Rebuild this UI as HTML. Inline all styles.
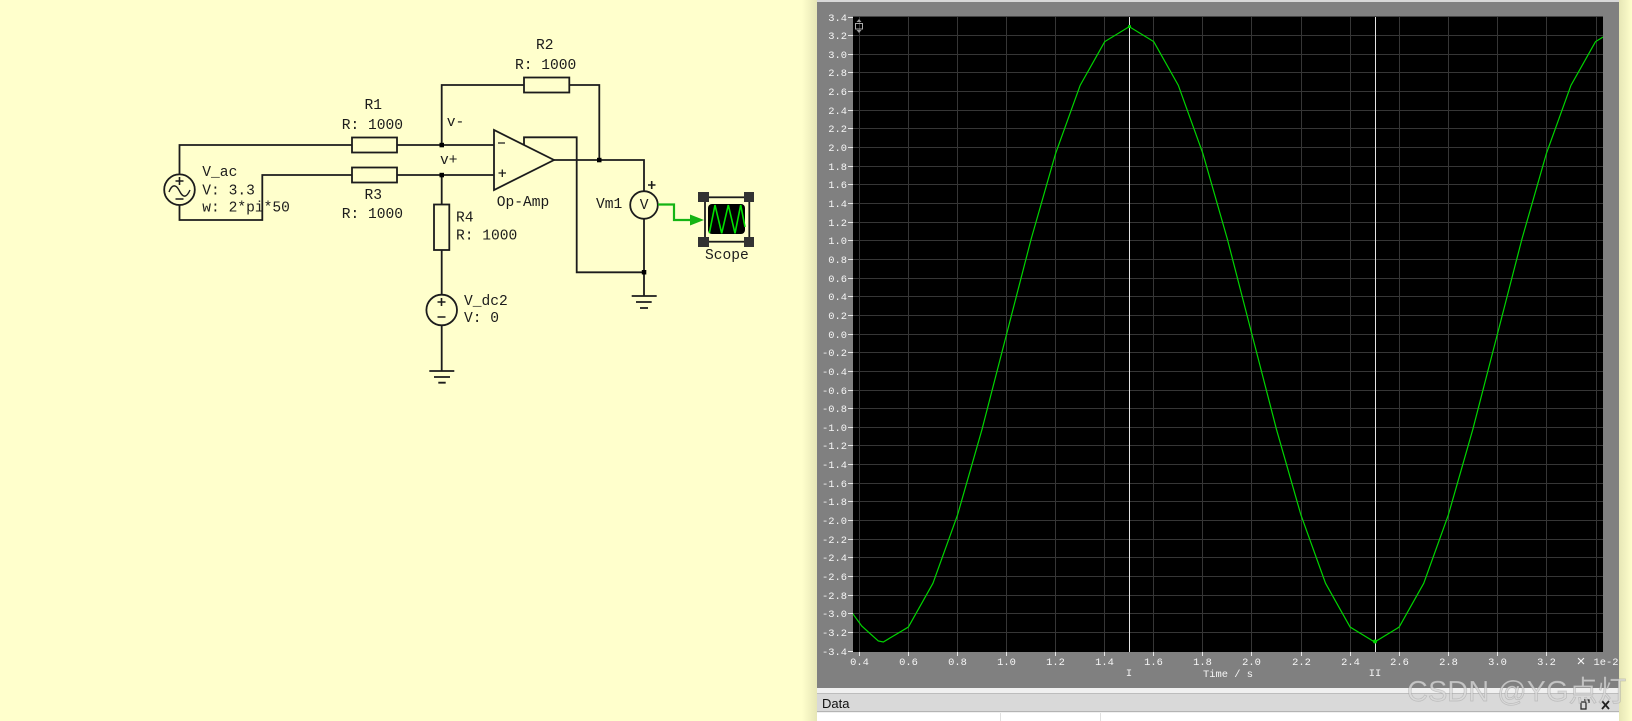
<!DOCTYPE html>
<html><head><meta charset="utf-8"><style>
html,body{margin:0;padding:0;width:1632px;height:721px;overflow:hidden;background:#ffffcc}
svg{display:block;position:absolute;left:0;top:0}
.s text{font-family:"Liberation Mono",monospace;font-size:14.6px;fill:#1c1c1c}
.l text{font-family:"Liberation Mono",monospace;font-size:10.4px;fill:#f6f6f6}
</style></head><body>
<svg width="1632" height="721" viewBox="0 0 1632 721">
<defs>
<linearGradient id="gl" x1="0" x2="1" y1="0" y2="0"><stop offset="0" stop-color="#ffffcc"/><stop offset="1" stop-color="#e6e6b6"/></linearGradient>
<linearGradient id="gr" x1="0" x2="1" y1="0" y2="0"><stop offset="0" stop-color="#e6e6b6"/><stop offset="1" stop-color="#ffffcc"/></linearGradient>
<clipPath id="pl"><rect x="853" y="17" width="750" height="635"/></clipPath>
</defs>
<rect width="1632" height="721" fill="#ffffcc"/>
<rect x="802" y="0" width="15" height="721" fill="url(#gl)"/>
<rect x="1619" y="0" width="13" height="721" fill="url(#gr)"/>

<!-- scope window -->
<rect x="817" y="0" width="802" height="688" fill="#808080"/>
<rect x="817" y="0" width="802" height="2" fill="#d8d8d8"/>
<rect x="853" y="17" width="750" height="635" fill="#000"/>
<rect x="853" y="16" width="750" height="1" fill="#444"/>
<path shape-rendering="crispEdges" stroke="#363636" stroke-width="1" fill="none" d="M853 35.5H1603M853 54.5H1603M853 72.5H1603M853 91.5H1603M853 110.5H1603M853 128.5H1603M853 147.5H1603M853 166.5H1603M853 184.5H1603M853 203.5H1603M853 222.5H1603M853 240.5H1603M853 259.5H1603M853 278.5H1603M853 296.5H1603M853 315.5H1603M853 334.5H1603M853 352.5H1603M853 371.5H1603M853 390.5H1603M853 408.5H1603M853 427.5H1603M853 445.5H1603M853 464.5H1603M853 483.5H1603M853 501.5H1603M853 520.5H1603M853 539.5H1603M853 557.5H1603M853 576.5H1603M853 595.5H1603M853 613.5H1603M853 632.5H1603
M859.5 17V652M908.5 17V652M957.5 17V652M1006.5 17V652M1055.5 17V652M1104.5 17V652M1153.5 17V652M1202.5 17V652M1251.5 17V652M1301.5 17V652M1350.5 17V652M1399.5 17V652M1448.5 17V652M1497.5 17V652M1546.5 17V652M1596.5 17V652"/>
<path shape-rendering="crispEdges" stroke="#e8e8e8" stroke-width="1" fill="none" d="M848 17.5H853M848 35.5H853M848 54.5H853M848 72.5H853M848 91.5H853M848 110.5H853M848 128.5H853M848 147.5H853M848 166.5H853M848 184.5H853M848 203.5H853M848 222.5H853M848 240.5H853M848 259.5H853M848 278.5H853M848 296.5H853M848 315.5H853M848 334.5H853M848 352.5H853M848 371.5H853M848 390.5H853M848 408.5H853M848 427.5H853M848 445.5H853M848 464.5H853M848 483.5H853M848 501.5H853M848 520.5H853M848 539.5H853M848 557.5H853M848 576.5H853M848 595.5H853M848 613.5H853M848 632.5H853M848 651.5H853
M859.5 652V656M908.5 652V656M957.5 652V656M1006.5 652V656M1055.5 652V656M1104.5 652V656M1153.5 652V656M1202.5 652V656M1251.5 652V656M1301.5 652V656M1350.5 652V656M1399.5 652V656M1448.5 652V656M1497.5 652V656M1546.5 652V656"/>
<path shape-rendering="crispEdges" stroke="#e4e4e4" stroke-width="1" fill="none" d="M1129.5 17V652M1375.5 17V652"/>
<polyline clip-path="url(#pl)" fill="none" stroke="#00d400" stroke-width="1.2" points="845,603 861.7,626 878.3,641 883.3,642 908.38,627.05 932.92,583.35 957.46,515.25 982,429.45 1006.54,334.35 1031.08,239.25 1055.62,153.45 1080.16,85.35 1104.7,41.65 1129.24,26.65 1153.78,41.65 1178.32,85.35 1202.86,153.45 1227.4,239.25 1251.94,334.35 1276.48,429.45 1301.02,515.25 1325.56,583.35 1350.1,627.05 1374.64,642.05 1399.18,627.05 1423.72,583.35 1448.26,515.25 1472.8,429.45 1497.34,334.35 1521.88,239.25 1546.42,153.45 1570.96,85.35 1595.5,41.65 1620.04,26.65"/>
<circle cx="1375" cy="641.5" r="2" fill="#00d400"/>
<circle cx="1129.5" cy="26.5" r="1.6" fill="#00d400"/>
<g fill="none" stroke="#aaa"><rect x="855.5" y="23.5" width="7" height="5.5"/></g>
<path d="M859 19l2.5 3h-5zM859 33l2.5-3h-5z" fill="#999"/>

<g class="l" text-anchor="end">
<text x="847" y="21">3.4</text><text x="847" y="39">3.2</text><text x="847" y="58">3.0</text><text x="847" y="76">2.8</text><text x="847" y="95">2.6</text><text x="847" y="114">2.4</text><text x="847" y="132">2.2</text><text x="847" y="151">2.0</text><text x="847" y="170">1.8</text><text x="847" y="188">1.6</text><text x="847" y="207">1.4</text><text x="847" y="226">1.2</text><text x="847" y="244">1.0</text><text x="847" y="263">0.8</text><text x="847" y="282">0.6</text><text x="847" y="300">0.4</text><text x="847" y="319">0.2</text><text x="847" y="338">0.0</text><text x="847" y="356">-0.2</text><text x="847" y="375">-0.4</text><text x="847" y="394">-0.6</text><text x="847" y="412">-0.8</text><text x="847" y="431">-1.0</text><text x="847" y="449">-1.2</text><text x="847" y="468">-1.4</text><text x="847" y="487">-1.6</text><text x="847" y="505">-1.8</text><text x="847" y="524">-2.0</text><text x="847" y="543">-2.2</text><text x="847" y="561">-2.4</text><text x="847" y="580">-2.6</text><text x="847" y="599">-2.8</text><text x="847" y="617">-3.0</text><text x="847" y="636">-3.2</text><text x="847" y="655">-3.4</text>
</g>
<g class="l" text-anchor="middle">
<text x="859.5" y="665">0.4</text><text x="908.5" y="665">0.6</text><text x="957.5" y="665">0.8</text><text x="1006.5" y="665">1.0</text><text x="1055.5" y="665">1.2</text><text x="1104.5" y="665">1.4</text><text x="1153.5" y="665">1.6</text><text x="1202.5" y="665">1.8</text><text x="1251.5" y="665">2.0</text><text x="1301.5" y="665">2.2</text><text x="1350.5" y="665">2.4</text><text x="1399.5" y="665">2.6</text><text x="1448.5" y="665">2.8</text><text x="1497.5" y="665">3.0</text><text x="1546.5" y="665">3.2</text>
<text x="1129" y="676">I</text><text x="1375" y="676">II</text>
<text x="1228" y="677">Time / s</text>
<text x="1581" y="666" style="font-size:15px">×</text>
</g>
<g class="l"><text x="1593.5" y="665">1e-2</text></g>

<!-- data panel -->
<rect x="817" y="688" width="802" height="33" fill="#f0f0f0"/>
<rect x="817" y="693" width="802" height="19" fill="#d9d9d9"/>
<rect x="817" y="693" width="802" height="1" fill="#bdbdbd"/>
<rect x="817" y="711" width="802" height="1" fill="#b4b4b4"/>
<rect x="817" y="713" width="802" height="8" fill="#fff"/>
<rect x="1000" y="713" width="1" height="8" fill="#e0e0e0"/>
<rect x="1100" y="713" width="1" height="8" fill="#e0e0e0"/>
<text x="822" y="708" font-family="'Liberation Sans',sans-serif" font-size="13" fill="#111">Data</text>
<path d="M1581 702h5v3M1581 702v7h5v-4M1584 700h5v3" fill="none" stroke="#222" stroke-width="1.2"/>
<path d="M1602 701l7 8M1609 701l-7 8" stroke="#222" stroke-width="1.8"/>

<text x="1407" y="701" font-family="'Liberation Sans','Noto Sans CJK SC',sans-serif" font-size="29" fill="#d8d8d8" fill-opacity=".78" stroke="#777" stroke-opacity=".3" stroke-width=".7">CSDN @YG点灯</text>

<!-- schematic -->
<g fill="none" stroke="#1c1c1c" stroke-width="1.8">
<path d="M179.5 174.5V145H352M397 145H494M441.7 145V85H524M569.3 85H599.3V160"/>
<path d="M179.5 205V220H262.3V175H352M397 175H494M441.7 175V204.5M441.7 250V295M441.7 325V371"/>
<path d="M554 160H644V191M644 219V296M524 145V137.3H576.7V272.3H644"/>
<circle cx="179.5" cy="189.7" r="15.3"/>
<path d="M169 192c3-8 7-8 10.500 -1s7 7 10.500 -1" stroke-width="1.4"/>
<path d="M175.500 181H183.500M179.500 177V185M175.500 199H183.500" stroke-width="1.6"/>
<rect x="352" y="137.500" width="45" height="15" fill="#ffffcc"/>
<rect x="352" y="167.500" width="45" height="15" fill="#ffffcc"/>
<rect x="524" y="77.500" width="45.300" height="15"/>
<rect x="434" y="204.500" width="15.300" height="45.500"/>
<path d="M494 130V190L554 160Z"/>
<path d="M498 143H505M498.500 173H506M502.300 169.500V177" stroke-width="1.300"/>
<circle cx="441.700" cy="310" r="15.300"/>
<path d="M437.500 302H445.500M441.500 298V306M437.500 317H445.500" stroke-width="1.600"/>
<path d="M429.300 371H454.300M434 377H450M438.300 382.700H445.700"/>
<circle cx="644" cy="205" r="13.800"/>
<path d="M648 185H655.500M651.700 181V189" stroke-width="1.600"/>
<path d="M631.700 296H656.700M636 302H651.700M640 308H648"/>
</g>
<g fill="#000">
<rect x="439.500" y="142.800" width="4.500" height="4.500"/><rect x="439.500" y="172.800" width="4.500" height="4.500"/>
<rect x="597" y="157.800" width="4.500" height="4.500"/><rect x="641.800" y="270" width="4.500" height="4.500"/>
</g>
<path d="M658 204.500H674V220H692" fill="none" stroke="#14b414" stroke-width="2.200"/>
<path d="M690 214.500L704 220L690 225.500Z" fill="#14b414"/>
<rect x="705" y="197.300" width="44.300" height="44.400" fill="none" stroke="#1c1c1c" stroke-width="1.800"/>
<rect x="708" y="204" width="37" height="30" rx="4" fill="#000"/>
<polyline points="709.300,233.300 715,205 721.700,233.300 728.300,205 735,233.300 740.700,205 745,227" fill="none" stroke="#00e000" stroke-width="1.600"/>
<g fill="#333"><rect x="698" y="192" width="11" height="10"/><rect x="744" y="192" width="10" height="10"/><rect x="698" y="237" width="11" height="10"/><rect x="744" y="237" width="10" height="10"/></g>

<g class="s">
<text x="364.500" y="109">R1</text><text x="341.700" y="129">R: 1000</text>
<text x="364.500" y="199">R3</text><text x="341.700" y="218">R: 1000</text>
<text x="536" y="49">R2</text><text x="515" y="69">R: 1000</text>
<text x="456" y="221.700">R4</text><text x="456" y="239.300">R: 1000</text>
<text x="202.300" y="176">V_ac</text><text x="202.300" y="194.300">V: 3.3</text><text x="202.300" y="211.700">w: 2*pi*50</text>
<text x="464" y="305">V_dc2</text><text x="464" y="322">V: 0</text>
<text x="446.700" y="126">v-</text><text x="440" y="164">v+</text>
<text x="496.700" y="206">Op-Amp</text>
<text x="596" y="208">Vm1</text><text x="639.700" y="209">V</text>
<text x="705" y="259">Scope</text>
</g>
</svg>
</body></html>
